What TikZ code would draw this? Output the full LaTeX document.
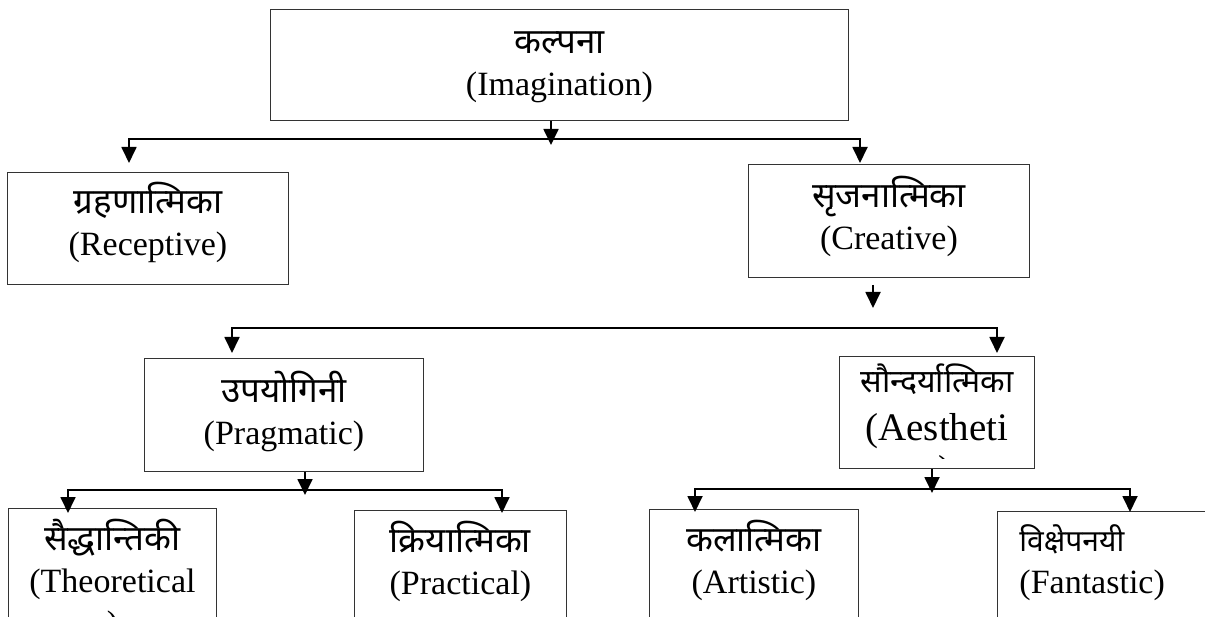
\documentclass[tikz,border=0pt]{standalone}
\usepackage{fontspec}
\setmainfont{Liberation Serif}
\newfontfamily\devfont[Script=Devanagari]{Noto Sans}
\usetikzlibrary{arrows.meta}

\tikzset{
  box/.style 2 args={draw=black!80, line width=0.9pt, anchor=north west, align=center,
    inner xsep=0pt, inner ysep=0pt, text height=#1, text depth=#2,
    font=\fontsize{34}{42}\selectfont},
  link/.style={line width=1.8pt, -{Triangle[width=15pt,length=16pt]}},
  twolink/.style={line width=1.8pt, {Triangle[width=15pt,length=16pt]}-{Triangle[width=15pt,length=16pt]}},
}
\newcommand{\hin}[1]{{\devfont\fontsize{35}{42}\selectfont #1}}

\begin{document}
\begin{tikzpicture}[x=1pt,y=-1pt]
	\useasboundingbox (0,0) rectangle (1205,617);

	\node[box={86pt}{25pt}, minimum width=578pt] (imag) at (270,9) {\hin{कल्पना}\\(Imagination)};
	\node[box={83pt}{29pt}, minimum width=281pt] (recep) at (7,172) {\hin{ग्रहणात्मिका}\\(Receptive)};
	\node[box={85pt}{28pt}, minimum width=281pt] (creat) at (748,164) {\hin{सृजनात्मिका}\\(Creative)};
	\node[box={86pt}{27pt}, minimum width=279pt] (prag) at (144,358) {\hin{उपयोगिनी}\\(Pragmatic)};
	\node[box={84pt}{28pt}, minimum width=195pt] (aesth) at (839,356) {{\devfont\fontsize{32}{42}\selectfont सौन्दर्यात्मिका}\\[6pt]{\fontsize{39}{45}\selectfont (Aestheti}};
	\begin{scope}
		\clip (839,356) rectangle (1034,458);
		\node[anchor=base, inner sep=0pt, font=\fontsize{39}{45}\selectfont] (aesfrag) at (936,482) {c)};
	\end{scope}
	\node[box={126pt}{40pt}, minimum width=208pt] (theor) at (8,508) {\hin{सैद्धान्तिकी}\\(Theoretical\\)};
	\node[box={84pt}{60pt}, minimum width=212pt] (pract) at (354,510) {\hin{क्रियात्मिका}\\(Practical)};
	\node[box={84pt}{60pt}, minimum width=209pt] (artis) at (649,509) {\hin{कलात्मिका}\\(Artistic)};
	\node[box={40pt}{150pt}, align=left, text width=250pt, inner xsep=22pt] (fanta) at (997,511) {{\devfont\fontsize{30}{42}\selectfont विक्षेपनयी}\\(Fantastic)};

	% imagination -> receptive / creative
	\coordinate (s1) at (551,145);
	\coordinate (t1l) at (129,163);
	\coordinate (t1r) at (860,163);
	\coordinate (b1r) at (860,139);
	\draw[link] (imag.south -| s1) -- (s1);
	\draw[twolink] (t1l) |- (b1r) -- (t1r);

	% creative -> pragmatic / aesthetic
	\coordinate (s2a) at (873,285);
	\coordinate (s2) at (873,308);
	\coordinate (t2l) at (232,353);
	\coordinate (t2r) at (997,353);
	\coordinate (b2r) at (997,328);
	\draw[link] (s2a) -- (s2);
	\draw[twolink] (t2l) |- (b2r) -- (t2r);

	% pragmatic -> theoretical / practical
	\coordinate (s3) at (305,495);
	\coordinate (t3l) at (68,513);
	\coordinate (t3r) at (502,513);
	\coordinate (b3r) at (502,490);
	\draw[link] (prag.south -| s3) -- (s3);
	\draw[twolink] (t3l) |- (b3r) -- (t3r);

	% aesthetic -> artistic / fantastic
	\coordinate (s4) at (932,493);
	\coordinate (t4l) at (695,512);
	\coordinate (t4r) at (1130,512);
	\coordinate (b4r) at (1130,489);
	\draw[link] (aesth.south -| s4) -- (s4);
	\draw[twolink] (t4l) |- (b4r) -- (t4r);
\end{tikzpicture}
\end{document}
